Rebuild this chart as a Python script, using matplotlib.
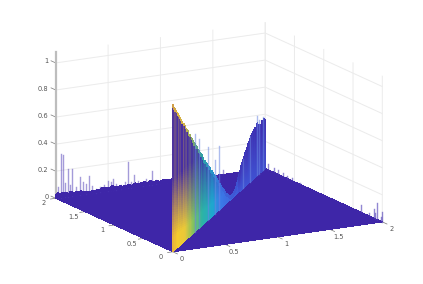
import numpy as np

import matplotlib
matplotlib.use('Agg')

import matplotlib.pyplot as plt
from matplotlib.colors import LinearSegmentedColormap, to_rgb
from mpl_toolkits.mplot3d import proj3d

x_ticks = [0, 0.5, 1, 1.5, 2]
y_ticks = [0, 0.5, 1, 1.5, 2]
z_ticks = [0, 0.2, 0.4, 0.6, 0.8, 1]
xy_labels = ['0', '0.5', '1', '1.5', '2']
z_labels = ['0', '0.2', '0.4', '0.6', '0.8', '1']

ridge_z = [1.09, 1.06, 1.04, 1.02, 0.99, 0.98, 0.95, 0.93, 0.90, 0.88,
           0.87, 0.84, 0.81, 0.80, 0.76, 0.75, 0.72, 0.70, 0.67, 0.66,
           0.63, 0.62, 0.58, 0.57, 0.54, 0.53, 0.50, 0.47, 0.46, 0.43,
           0.42, 0.39, 0.38, 0.35, 0.34, 0.31, 0.29, 0.28, 0.25, 0.23,
           0.20, 0.19, 0.16, 0.14, 0.13, 0.10, 0.08, 0.07, 0.05, 0.04,
           0.03, 0.03, 0.03, 0.04, 0.05, 0.07, 0.10, 0.13, 0.15, 0.18,
           0.20, 0.22, 0.24, 0.26, 0.27, 0.30, 0.31, 0.33, 0.34, 0.35,
           0.36, 0.37, 0.36, 0.39, 0.37, 0.36, 0.34, 0.38, 0.35, 0.38, 0.36]

# thin spikes above the diagonal
spike_t = [0.48, 0.56, 0.76, 0.91, 1.0, 1.52, 1.67, 1.83, 1.87, 1.96]
spike_z = [0.72, 0.66, 0.54, 0.40, 0.47, 0.22, 0.34, 0.44, 0.40, 0.39]

# spikes along the back edge y = 2
edge_x = [0.02, 0.05, 0.073, 0.09, 0.116, 0.14, 0.16, 0.19, 0.23, 0.26, 0.29, 0.32,
          0.35, 0.38, 0.42, 0.46, 0.5, 0.53, 0.55, 0.58, 0.62, 0.66, 0.69, 0.72, 0.75,
          0.79, 0.83, 0.86, 0.89, 0.92, 0.96, 1.0, 1.06, 1.12, 1.2, 1.3, 1.45, 1.6, 1.8]
edge_z = [0.08, 0.32, 0.31, 0.10, 0.20, 0.08, 0.20, 0.06, 0.13, 0.09, 0.07, 0.13,
          0.05, 0.03, 0.04, 0.05, 0.07, 0.06, 0.085, 0.04, 0.03, 0.05, 0.19, 0.04, 0.087,
          0.04, 0.03, 0.045, 0.03, 0.10, 0.03, 0.02, 0.02, 0.03, 0.02, 0.03, 0.02, 0.03, 0.02]

# low bumps along the back edge, one per 0.02 in x starting at 0
bump_z = [0.03, 0.04, 0.025, 0.04, 0.03, 0.035, 0.02, 0.035, 0.03, 0.02, 0.03, 0.02,
          0.03, 0.015, 0.02, 0.015, 0.01, 0.015, 0.02, 0.015, 0.02, 0.02, 0.03, 0.025,
          0.03, 0.025, 0.02, 0.035, 0.025, 0.02, 0.02, 0.03, 0.015, 0.025, 0.02, 0.025,
          0.015, 0.02, 0.03, 0.025, 0.02, 0.025, 0.03, 0.025, 0.02, 0.03, 0.025, 0.015,
          0.025, 0.02, 0.015, 0.025, 0.02, 0.025, 0.015, 0.02, 0.025, 0.015, 0.02, 0.015]

# spikes along the right edge x = 2, given by y
right_y = [0.0, 0.03, 0.085, 0.12, 0.15, 0.22, 0.37, 1.4, 1.55, 1.62, 1.7, 1.78, 1.85, 1.95]
right_z = [0.07, 0.03, 0.126, 0.04, 0.065, 0.02, 0.05, 0.01, 0.015, 0.02, 0.025, 0.03, 0.03, 0.04]

indigo = '#3e26a8'
ridge_cmap = LinearSegmentedColormap.from_list('ridge', [
    (0.0, '#e8b43a'), (0.03, '#f5cb2c'), (0.12, '#e8c83a'), (0.2, '#8cc25a'),
    (0.3, '#2fb5a0'), (0.42, '#1ea6d0'), (0.5, '#3a7be8'), (0.7, '#3f58d8'), (1.0, '#3f4ccc')])
# how much each column of the sheet leans to indigo
stripes = [0.9, 0.75, 0.85, 0.95, 0.7, 0.85, 0.8, 0.95, 0.7, 0.9, 0.8, 0.75, 0.95, 0.85, 0.75, 0.9]

fig = plt.figure(figsize=(4.23, 2.84), dpi=100)
S = 423.0
left = (219 - 0.5135 * S) / 423.0
bottom = (147 - 0.5135 * S) / 284.0
ax = fig.add_axes([left, bottom, S / 423.0, S / 284.0], projection='3d', proj_type='ortho',
                  computed_zorder=False)
ax.patch.set_alpha(0)
ax.view_init(elev=14.8, azim=-119.2)
ax.set_box_aspect((240, 240, 151.2), zoom=360.7 / S)
ax.set_xlim(0, 2)
ax.set_ylim(0, 2)
ax.set_zlim(0, 1.08)

ax.set_xticks(x_ticks)
ax.set_yticks(y_ticks)
ax.set_zticks(z_ticks)

for axis in [ax.xaxis, ax.yaxis, ax.zaxis]:
    axis.set_pane_color((1, 1, 1, 1))
    axis.pane.set_edgecolor('white')
    axis.line.set_color((1, 1, 1, 0))
    axis._axinfo['grid'].update(color='#ebebeb', linewidth=0.7)
    axis._axinfo['tick'].update(inward_factor=0.0, outward_factor=0.0)
    # the labels and tick marks are drawn below, mplot3d points them the wrong way
    for tick in axis.get_major_ticks():
        tick.label1.set_visible(False)
        tick.label2.set_visible(False)
        tick.tick1line.set_visible(False)
        tick.tick2line.set_visible(False)


def label(x, y, z, s, ha):
    # flat text at the projected spot
    px, py, _ = proj3d.proj_transform(x, y, z, ax.get_proj())
    ax.text2D(px, py, s, transform=ax.transData, fontsize=4.8, color='#555555',
              ha=ha, va='center', zorder=6)


for v, s in zip(x_ticks, xy_labels):
    label(v + 0.086, 0, -0.065, s, 'center')
for v, s in zip(y_ticks, xy_labels):
    label(0, v + 0.203, -0.078, s, 'center')
for v, s in zip(z_ticks, z_labels):
    label(0, 2.119, v - 0.0126, s, 'right')

for v in x_ticks:
    ax.plot([v, v], [0, -0.08], [0, 0], color='#777777', lw=0.5, zorder=1)
for v in y_ticks:
    ax.plot([0, -0.05], [v, v], [0, 0], color='#777777', lw=0.5, zorder=1)
for v in z_ticks:
    ax.plot([0, 0], [2, 2.08], [v, v], color='#777777', lw=0.5, zorder=1)

# floor
xf, yf = np.meshgrid([0, 2], [0, 2])
ax.plot_surface(xf, yf, np.zeros_like(xf, dtype=float), color=indigo, shade=False,
                linewidth=0, antialiased=False, zorder=2)

# z axis
ax.plot([0, 0], [2, 2], [0, 1.08], color='#bdbdbd', lw=1.6, zorder=1.5)

# spikes behind
for a, h in zip(edge_x, edge_z):
    ax.plot([a, a], [2, 2], [0, h], color='#4a38b4', lw=1.0, alpha=0.5, zorder=3)
for b, h in zip(right_y, right_z):
    ax.plot([2, 2], [b, b], [0, h], color='#4a38b4', lw=1.0, alpha=0.6, zorder=3)

# low bumps as a strip standing on the back edge
bump_x = np.arange(len(bump_z)) * 0.02
strip_x = np.tile(bump_x, (2, 1))
strip_y = np.full_like(strip_x, 2.0)
strip_z = np.outer([0, 1], bump_z)
ax.plot_surface(strip_x, strip_y, strip_z, color=indigo, rstride=1, cstride=1, shade=False,
                linewidth=0, antialiased=False, zorder=3)

# sheet over the diagonal
ridge_z = np.array(ridge_z)
t = np.linspace(0, 2, len(ridge_z))
frac = np.linspace(0, 1, 60)
T = np.tile(t, (len(frac), 1))
Z = np.outer(frac, ridge_z)

colors = np.zeros(Z.shape + (4,))
mix_col = np.resize(stripes, len(t))
ind = np.array(to_rgb(indigo))
for i in range(len(frac)):
    for j in range(len(t)):
        base = np.array(ridge_cmap(t[j] / 2.0)[:3])
        # more indigo the higher up the sheet, top rim keeps the base colour
        w = np.clip((Z[i, j] - 0.1) / 0.45, 0, 1) * mix_col[j]
        if t[j] > 1.4:
            w = np.clip(frac[i] * 1.1, 0, 1) * mix_col[j] * 0.8
        elif Z[i, j] > ridge_z[j] - 0.025:
            w = 0.15
        colors[i, j, :3] = (1 - w) * base + w * ind
        colors[i, j, 3] = 1

ax.plot_surface(T, T, Z, facecolors=colors, rstride=1, cstride=1, shade=False,
                linewidth=0, antialiased=False, zorder=4)

for a, h in zip(spike_t, spike_z):
    ax.plot([a, a], [a, a], [0, h], color='#6a86e0', lw=1.0, alpha=0.55, zorder=5)

plt.savefig('out.png', dpi=100)
